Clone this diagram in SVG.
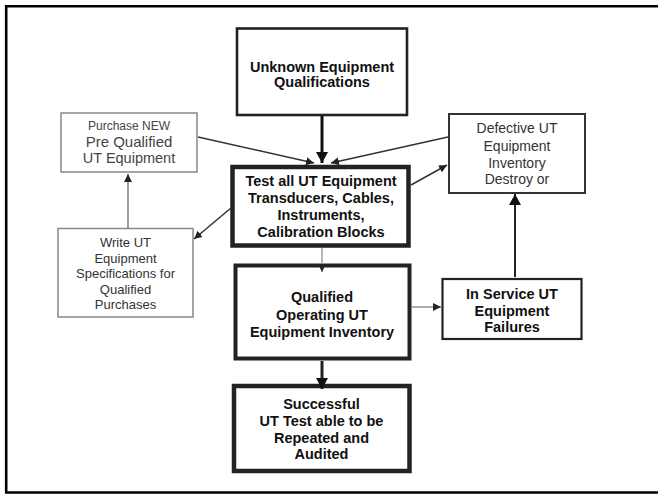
<svg xmlns="http://www.w3.org/2000/svg" width="658" height="494" viewBox="0 0 658 494">
<style>
text{font-family:"Liberation Sans",Arial,sans-serif;text-anchor:middle}
.b{font-weight:bold;font-size:14.5px;fill:#111}
.n{font-size:14px;fill:#333}
.s{font-size:13px;fill:#333}
.box{fill:#fff}
.conn{fill:none}
</style>
<defs>
<marker id="big" markerUnits="userSpaceOnUse" markerWidth="14" markerHeight="12" refX="11" refY="6" orient="auto">
<path d="M0,0 L11,6 L0,12 Z" fill="#111"/>
</marker>
<marker id="sm" markerUnits="userSpaceOnUse" markerWidth="9" markerHeight="8" refX="8" refY="4" orient="auto">
<path d="M0,0 L8,4 L0,8 Z" fill="#222"/>
</marker>
</defs>
<rect width="658" height="494" fill="#fff"/>
<path d="M658,6.2 H6.2 V492.5 H658" fill="none" stroke="#000" stroke-width="2.6"/>

<g id="unknown">
<rect class="box" x="237" y="28.5" width="170" height="86.5" stroke="#222" stroke-width="2.6"/>
<text class="b" x="322" y="72">Unknown Equipment</text>
<text class="b" x="322" y="86.5">Qualifications</text>
</g>

<g id="purchase">
<rect class="box" x="61" y="113" width="136" height="59" stroke="#888" stroke-width="1.5"/>
<text x="129" y="130" style="font-size:12px;fill:#444">Purchase NEW</text>
<text x="129" y="147" style="font-size:15px;fill:#444">Pre Qualified</text>
<text x="129" y="162.5" style="font-size:14.5px;fill:#444">UT Equipment</text>
</g>

<g id="defective">
<rect class="box" x="449" y="114" width="136" height="79" stroke="#333" stroke-width="2"/>
<text class="n" x="517" y="133">Defective UT</text>
<text class="n" x="517" y="151">Equipment</text>
<text class="n" x="517" y="168">Inventory</text>
<text class="n" x="517" y="184">Destroy or</text>
</g>

<g id="test">
<rect class="box" x="232.5" y="167" width="176" height="78.5" stroke="#222" stroke-width="4.5"/>
<text class="b" x="321" y="186">Test all UT Equipment</text>
<text class="b" x="321" y="203">Transducers, Cables,</text>
<text class="b" x="321" y="220">Instruments,</text>
<text class="b" x="321" y="237">Calibration Blocks</text>
</g>

<g id="write">
<rect class="box" x="58" y="228.5" width="135" height="88.5" stroke="#888" stroke-width="1.5"/>
<text class="s" x="125.5" y="247">Write UT</text>
<text class="s" x="125.5" y="262.5">Equipment</text>
<text class="s" x="125.5" y="278">Specifications for</text>
<text class="s" x="125.5" y="293.5">Qualified</text>
<text class="s" x="125.5" y="309">Purchases</text>
</g>

<g id="qualified">
<rect class="box" x="235.5" y="265.5" width="174" height="93" stroke="#222" stroke-width="4"/>
<text class="b" x="322" y="302">Qualified</text>
<text class="b" x="322" y="320">Operating UT</text>
<text class="b" x="322" y="337">Equipment Inventory</text>
</g>

<g id="inservice">
<rect class="box" x="442.5" y="279" width="139" height="60" stroke="#222" stroke-width="2.2"/>
<text class="b" x="512" y="299">In Service UT</text>
<text class="b" x="512" y="316">Equipment</text>
<text class="b" x="512" y="332">Failures</text>
</g>

<g id="successful">
<rect class="box" x="234" y="386" width="175.5" height="85" stroke="#222" stroke-width="4.5"/>
<text class="b" x="321.5" y="409">Successful</text>
<text class="b" x="321.5" y="426">UT Test able to be</text>
<text class="b" x="321.5" y="442.5">Repeated and</text>
<text class="b" x="321.5" y="459">Audited</text>
</g>

<g id="connectors" class="conn">
<line x1="322" y1="116" x2="322" y2="163" stroke="#111" stroke-width="3" marker-end="url(#big)"/>
<line x1="198" y1="137" x2="314" y2="163" stroke="#333" stroke-width="1.5" marker-end="url(#sm)"/>
<line x1="448" y1="137" x2="331" y2="163" stroke="#333" stroke-width="1.5" marker-end="url(#sm)"/>
<line x1="411" y1="185" x2="447" y2="165" stroke="#333" stroke-width="1.5" marker-end="url(#sm)"/>
<line x1="231" y1="208" x2="194" y2="239" stroke="#333" stroke-width="1.5" marker-end="url(#sm)"/>
<line x1="128" y1="228" x2="128" y2="174" stroke="#777" stroke-width="1.4" marker-end="url(#sm)"/>
<line x1="322" y1="248" x2="322" y2="272" stroke="#999" stroke-width="1.4" marker-end="url(#sm)"/>
<line x1="412" y1="307" x2="441" y2="307" stroke="#999" stroke-width="1.6" marker-end="url(#sm)"/>
<line x1="515" y1="277" x2="515" y2="194" stroke="#222" stroke-width="2" marker-end="url(#big)"/>
<line x1="322" y1="361" x2="322" y2="389" stroke="#222" stroke-width="3" marker-end="url(#big)"/>
</g>
</svg>
